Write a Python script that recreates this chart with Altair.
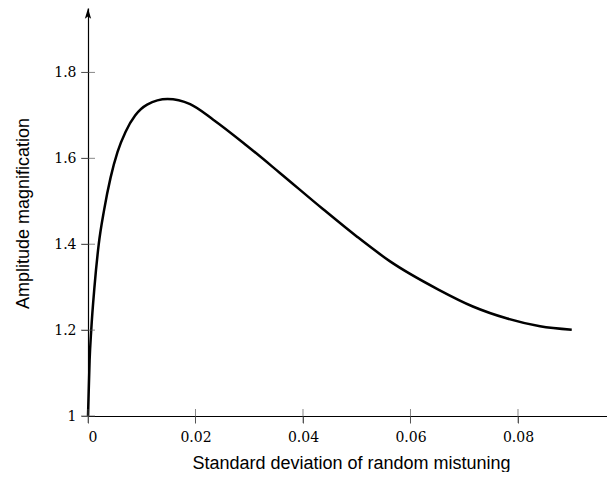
import altair as alt
import pandas as pd

# Curve
sigma = [0.0, 0.0003, 0.0006, 0.0012, 0.002, 0.003, 0.0042, 0.0055, 0.007,
         0.0088, 0.011, 0.0148, 0.019, 0.0233, 0.0295, 0.0357, 0.0437, 0.05,
         0.0562, 0.0651, 0.0716, 0.078, 0.0841, 0.09]
amplitude = [1.0, 1.13, 1.2, 1.30, 1.40, 1.48, 1.555, 1.615, 1.662,
             1.700, 1.725, 1.738, 1.726, 1.690, 1.630, 1.566, 1.482, 1.418,
             1.360, 1.295, 1.255, 1.227, 1.209, 1.201]

x_ticks = [0, 0.02, 0.04, 0.06, 0.08]
y_ticks = [1, 1.2, 1.4, 1.6, 1.8]
x_range = [0, 0.09656]
y_range = [1, 1.95]

df = pd.DataFrame({"sigma": sigma, "amp": amplitude})
xt = pd.DataFrame({"sigma": x_ticks, "amp": [y_range[0]] * len(x_ticks)})
yt = pd.DataFrame({"sigma": [x_range[0]] * len(y_ticks), "amp": y_ticks})
arrow = pd.DataFrame({"sigma": [x_range[0]], "amp": [y_range[1]]})

xs = alt.Scale(domain=x_range, nice=False, zero=False)
ys = alt.Scale(domain=y_range, nice=False, zero=False)

common_axis = dict(
    grid=False, domainColor="black", domainWidth=1.2,
    ticks=True, tickSize=7, tickColor="#555555", tickWidth=1,
    labelFont="DejaVu Serif", labelFontSize=14, labelColor="black",
    titleFont="Liberation Sans", titleFontSize=18, titleFontWeight="normal",
    titleColor="black", format="~g",
)

curve = alt.Chart(df).mark_line(color="black", strokeWidth=2.5, interpolate="monotone").encode(
    x=alt.X("sigma:Q", scale=xs, axis=alt.Axis(
        values=x_ticks, labelPadding=7, title="Standard deviation of random mistuning",
        titleX=263, titleY=52, titleBaseline="alphabetic", **common_axis)),
    y=alt.Y("amp:Q", scale=ys, axis=alt.Axis(
        values=y_ticks, labelPadding=5, title="Amplitude magnification",
        titleX=-60, titleY=205, titleAngle=-90, titleAlign="center",
        titleBaseline="alphabetic", **common_axis)),
)

xtick_layer = alt.Chart(xt).mark_tick(orient="vertical", size=14, thickness=1, color="#555555").encode(
    x=alt.X("sigma:Q", scale=xs, axis=None),
    y=alt.Y("amp:Q", scale=ys, axis=None),
)
ytick_layer = alt.Chart(yt).mark_tick(orient="horizontal", size=14, thickness=1, color="#555555").encode(
    x=alt.X("sigma:Q", scale=xs, axis=None),
    y=alt.Y("amp:Q", scale=ys, axis=None),
)
arrow_layer = alt.Chart(arrow).mark_point(
    shape="M0,-1L0.6,1L0,0.55L-0.6,1Z", size=110, filled=True, color="black",
    opacity=1, yOffset=5.5,
).encode(
    x=alt.X("sigma:Q", scale=xs, axis=None),
    y=alt.Y("amp:Q", scale=ys, axis=None),
)

chart = alt.layer(curve, xtick_layer, ytick_layer, arrow_layer).resolve_axis(
    x="independent", y="independent"
).properties(
    width=519, height=408,
    autosize=alt.AutoSizeParams(type="none"),
    padding={"left": 80, "top": 0, "right": 0, "bottom": 56},
).configure_view(stroke=None)

chart.save("out.html", embed_options={"renderer": "svg", "actions": False})
